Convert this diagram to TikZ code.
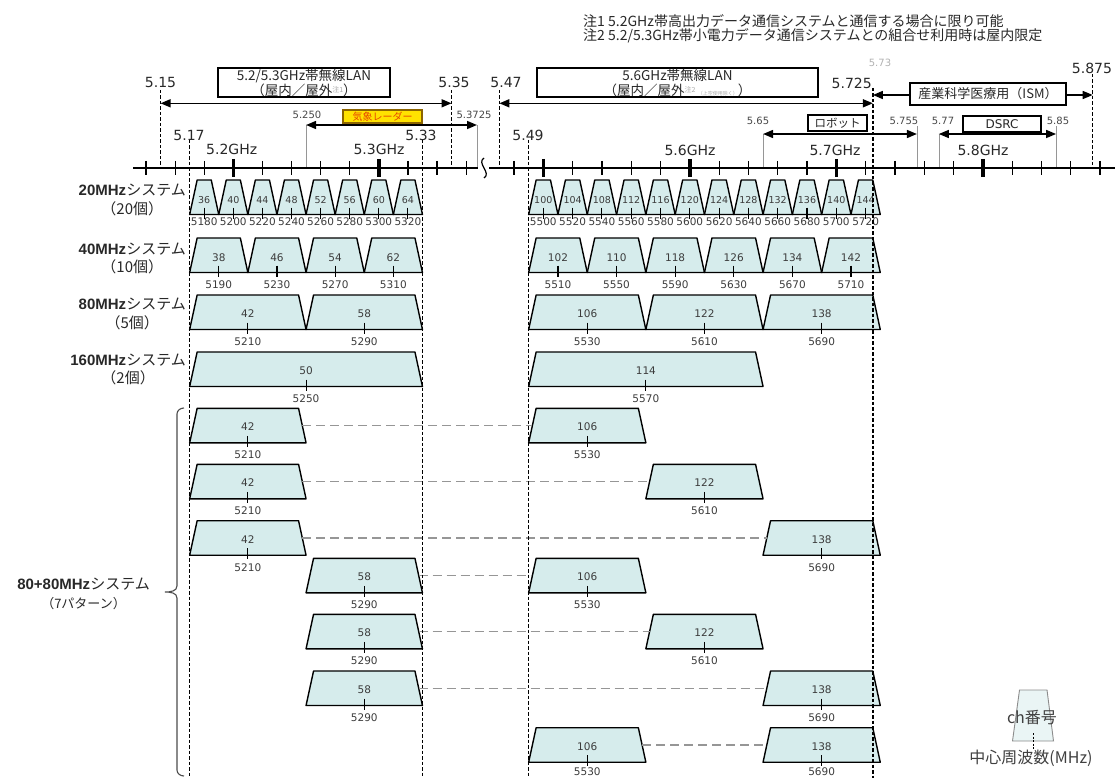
\documentclass[tikz,border=0pt]{standalone}
\usepackage{fontspec}
\setmainfont{DejaVu Sans}
\newfontfamily\jp{Noto Sans CJK JP}
\newfontfamily\lsans{Liberation Sans}
\usetikzlibrary{arrows.meta}
\definecolor{chfill}{RGB}{214,236,236}
\definecolor{txt}{RGB}{40,40,40}
\definecolor{numtxt}{RGB}{60,60,60}
\definecolor{radarfill}{RGB}{255,226,0}
\definecolor{radarline}{RGB}{140,100,0}
\definecolor{radartxt}{RGB}{230,70,0}
\definecolor{guidegray}{RGB}{150,150,150}
\definecolor{conngray}{RGB}{150,150,150}
\definecolor{notegray}{RGB}{170,170,170}
\newcommand\fsz[1]{\fontsize{#1}{#1}\selectfont}
% #1 name, #2 centre freq, #3 bandwidth, #4 top y, #5 number dy, #6 number, #7 freq dy
\newcommand\chbox[7]{%
 \pgfmathsetmacro\chX{ifthenelse(#2<5400,233.3+(#2-5200)*1.455,543.3+(#2-5500)*1.465)}%
 \pgfmathsetmacro\chH{#3*0.5*ifthenelse(#2<5400,1.455,1.465)}%
 \pgfmathsetmacro\chB{#4+34.5}%
 \draw[chan] ({\chX-\chH},\chB) -- ({\chX-\chH+7.5},#4) -- ({\chX+\chH-7.5},#4) -- ({\chX+\chH},\chB) -- cycle;
 \coordinate (#1-w) at ({\chX-\chH+3.75},{#4+17.25});
 \coordinate (#1-e) at ({\chX+\chH-3.75},{#4+17.25});
 \node[num] (#1-n) at (\chX,{#4+#5}) {#6};
 \draw[ctick] (\chX,{\chB-7}) -- (\chX,{\chB+4});
 \node[frq] (#1-f) at (\chX,{\chB+#7}) {#2};
}
\begin{document}
\begin{tikzpicture}[x=1pt,y=-1pt,
 axisln/.style={line width=1.8},
 tk/.style={line width=1.2},
 tkb/.style={line width=3.6},
 bound/.style={line width=1.4, dash pattern=on 3.5pt off 2pt},
 guide/.style={line width=0.7, draw=guidegray},
 arr/.style={line width=1.5, {Triangle[length=10pt,width=8pt]}-{Triangle[length=10pt,width=8pt]}},
 lbl/.style={font=\fsz{14}, text=txt, inner sep=0},
 slbl/.style={font=\fsz{10}, text=txt!85, inner sep=0},
 lbox/.style={draw, line width=1.2, fill=white, inner sep=0, align=center, text=txt},
 chan/.style={draw, line width=1.4, fill=chfill, line join=round},
 num/.style={font=\fsz{10.5}, text=numtxt, inner sep=0},
 frq/.style={font=\fsz{10.5}, text=numtxt, inner sep=0},
 ctick/.style={line width=1.1},
 conn/.style={draw=conngray, line width=1.4, dash pattern=on 9pt off 5pt},
 syslbl/.style={align=center, inner sep=0, anchor=east, text=txt, font=\fontsize{15}{18.5}\selectfont},
 note/.style={anchor=west, inner sep=0, text=txt, font=\jp\fsz{14}}]
\fill[white] (0,0) rectangle (1115,778);
\useasboundingbox (0,0) rectangle (1115,778);

% notes
\node[note] (n1) at (583,21) {注1 5.2GHz帯高出力データ通信システムと通信する場合に限り可能};
\node[note] (n2) at (583,36) {注2 5.2/5.3GHz帯小電力データ通信システムとの組合せ利用時は屋内限定};

% thin guide lines
\draw[guide] (306.05,125) -- (306.05,168);
\draw[guide] (477,125) -- (477,168);
\draw[guide] (763.05,134) -- (763.05,168);
\draw[guide] (916.9,126) -- (916.9,168);
\draw[guide] (938.85,134) -- (938.85,168);
\draw[guide] (1056.05,126) -- (1056.05,168);

% axis
\draw[axisln] (133,168) -- (478,168);
\draw[axisln] (489,168) -- (1115,168);
\draw[line width=1.2] (484,158) .. controls (476,163) and (492,173) .. (484,178);
\foreach \f in {5140,5160,...,5360}{\pgfmathsetmacro\xx{233.3+(\f-5200)*1.455}\draw[tk] (\xx,161) -- (\xx,175);}
\foreach \f in {5200,5300}{\pgfmathsetmacro\xx{233.3+(\f-5200)*1.455}\draw[tkb] (\xx,159) -- (\xx,177);}
\foreach \f in {5480,5500,...,5880}{\pgfmathsetmacro\xx{543.3+(\f-5500)*1.465}\draw[tk] (\xx,161) -- (\xx,175);}
\foreach \f in {5500,5600,5700,5800}{\pgfmathsetmacro\xx{543.3+(\f-5500)*1.465}\draw[tkb] (\xx,159) -- (\xx,177);}

% short boundary lines
\draw[bound] (160.55,90) -- (160.55,168);
\draw[bound] (451.55,90) -- (451.55,168);
\draw[bound] (499.35,90) -- (499.35,168);
\draw[bound] (1092.7,74) -- (1092.7,168);

% arrow end points
\coordinate (a515) at (160.55,103.3);
\coordinate (a535) at (451.55,103.3);
\coordinate (a547) at (499.35,103.3);
\coordinate (a5725) at (872.9,103.3);
\coordinate (i5725) at (872.9,95);
\coordinate (i5875) at (1092.7,95);
\coordinate (r525) at (306.05,125);
\coordinate (r53725) at (477,125);
\coordinate (b565) at (763.05,134);
\coordinate (b5755) at (916.9,134);
\coordinate (d577) at (938.85,134);
\coordinate (d585) at (1056.05,134);
\draw[arr] (a515) -- (a535);
\draw[arr] (a547) -- (a5725);
\draw[arr] (i5725) -- (i5875);
\draw[arr] (r525) -- (r53725);
\draw[arr] (b565) -- (b5755);
\draw[arr] (d577) -- (d585);

% band boxes
\node[lbox, minimum width=172, minimum height=29, font=\jp\fontsize{13.5}{15}\selectfont] (lan1) at (304,82.5)
 {5.2/5.3GHz帯無線LAN\\（屋内／屋外\raisebox{3pt}{\fsz{7}\color{notegray}注1}）};
\node[lbox, minimum width=281, minimum height=29, font=\jp\fontsize{13.5}{15}\selectfont] (lan2) at (677.5,82.5)
 {5.6GHz帯無線LAN\\（屋内／屋外\raisebox{3pt}{\fsz{7}\color{notegray}注2}\,{\fsz{5}\color{notegray}（上空使用除く）}）};
\node[lbox, minimum width=156, minimum height=22, font=\jp\fsz{13}] (ism) at (988,94) {産業科学医療用（ISM）};
\node[lbox, minimum width=59, minimum height=16, font=\jp\fsz{11.5}] (robot) at (837.5,123) {ロボット};
\node[lbox, minimum width=78, minimum height=16, font=\fsz{12}] (dsrc) at (1002,124) {DSRC};
\node[lbox, draw=radarline, fill=radarfill, text=radartxt, minimum width=79, minimum height=13, font=\jp\fsz{10}] (radar) at (382.5,116.5) {気象レーダー};

% frequency labels
\node[lbl] (l515) at (160.5,82) {5.15};
\node[lbl] (l535) at (454,82) {5.35};
\node[lbl] (l547) at (506,82) {5.47};
\node[lbl, anchor=east] (l5725) at (872,83) {5.725};
\node[lbl] (l5875) at (1092,68) {5.875};
\node[lbl] (l517) at (189,135) {5.17};
\node[lbl] (l533) at (421,135) {5.33};
\node[lbl] (l549) at (528,135) {5.49};
\node[lbl] (g52) at (231.7,149.5) {5.2GHz};
\node[lbl] (g53) at (379,149.5) {5.3GHz};
\node[lbl] (g56) at (690,150) {5.6GHz};
\node[lbl] (g57) at (835,150) {5.7GHz};
\node[lbl] (g58) at (983,150) {5.8GHz};
\node[slbl] (l5250) at (307,115) {5.250};
\node[slbl] (l53725) at (474,115) {5.3725};
\node[slbl] (l565) at (758,121) {5.65};
\node[slbl] (l5755) at (904,121) {5.755};
\node[slbl] (l577) at (943,121) {5.77};
\node[slbl] (l585) at (1058,121) {5.85};
\node[slbl, text=black!30] (l573) at (880,63) {5.73};

% 20 MHz
\begin{scope}[num/.style={font=\fsz{9.5}, text=numtxt, inner sep=0}]
\foreach \cn/\f in {36/5180,40/5200,44/5220,48/5240,52/5260,56/5280,60/5300,64/5320,100/5500,104/5520,108/5540,112/5560,116/5580,120/5600,124/5620,128/5640,132/5660,136/5680,140/5700,144/5720}
 {\chbox{t\cn}{\f}{20}{180}{20}{\cn}{7}}
\end{scope}
% 40 MHz
\foreach \cn/\f in {38/5190,46/5230,54/5270,62/5310,102/5510,110/5550,118/5590,126/5630,134/5670,142/5710}
 {\chbox{u\cn}{\f}{40}{238}{20}{\cn}{12}}
% 80 MHz
\foreach \cn/\f in {42/5210,58/5290,106/5530,122/5610,138/5690}
 {\chbox{v\cn}{\f}{80}{295}{19}{\cn}{12}}
% 160 MHz
\foreach \cn/\f in {50/5250,114/5570}
 {\chbox{w\cn}{\f}{160}{352}{19}{\cn}{12}}
% 80+80 MHz
\foreach \rr/\tyy/\nA/\fA/\nB/\fB/\dd in {1/408.3/42/5210/106/5530/12,2/464.3/42/5210/122/5610/12,3/520.7/42/5210/138/5690/12,4/558.3/58/5290/106/5530/12,5/614.3/58/5290/122/5610/12,6/671/58/5290/138/5690/12,7/727.7/106/5530/138/5690/9.5}
 {\chbox{p\rr-a}{\fA}{80}{\tyy}{18.5}{\nA}{\dd}
  \chbox{p\rr-b}{\fB}{80}{\tyy}{18.5}{\nB}{\dd}
  \draw[conn] (p\rr-a-e) -- (p\rr-b-w);}

% long boundary lines
\draw[bound] (189.65,140) -- (189.65,778);
\draw[bound] (422.45,140) -- (422.45,778);
\draw[bound] (528.65,140) -- (528.65,778);
\draw[bound] (872.9,88) -- (872.9,778);

% system labels
\node[syslbl] (s20) at (186,200) {{\lsans\bfseries 20MHz}{\jp システム}\\{\jp （20個）}};
\node[syslbl] (s40) at (186,258.5) {{\lsans\bfseries 40MHz}{\jp システム}\\{\jp （10個）}};
\node[syslbl] (s80) at (186,314) {{\lsans\bfseries 80MHz}{\jp システム}\\{\jp （5個）}};
\node[syslbl] (s160) at (186,369.5) {{\lsans\bfseries 160MHz}{\jp システム}\\{\jp （2個）}};
\node[syslbl] (s8080) at (150,594) {{\lsans\bfseries 80+80MHz}{\jp システム}\\{\jp\fontsize{13}{18.5}\selectfont （7パターン）}};
\draw[line width=1.1, draw=black!70] (184,408) to[out=180,in=90] (177,414) -- (177,586) to[out=-90,in=0] (165,592) to[out=0,in=90] (177,598) -- (177,770) to[out=-90,in=180] (184,776);

% legend
\draw[draw=black!45, fill=chfill!50, line width=0.9] (1012.5,741) -- (1019.5,690) -- (1047,690) -- (1053.5,741) -- cycle;
\draw[line width=1, dash pattern=on 2pt off 1.5pt] (1033,733) -- (1033,750);
\node[inner sep=0, text=black!75, font=\jp\fsz{16}] (lgch) at (1032,718) {ch番号};
\node[inner sep=0, text=black!75, font=\jp\fsz{16}] (lgfr) at (1031,758) {中心周波数(MHz)};
\end{tikzpicture}
\end{document}
